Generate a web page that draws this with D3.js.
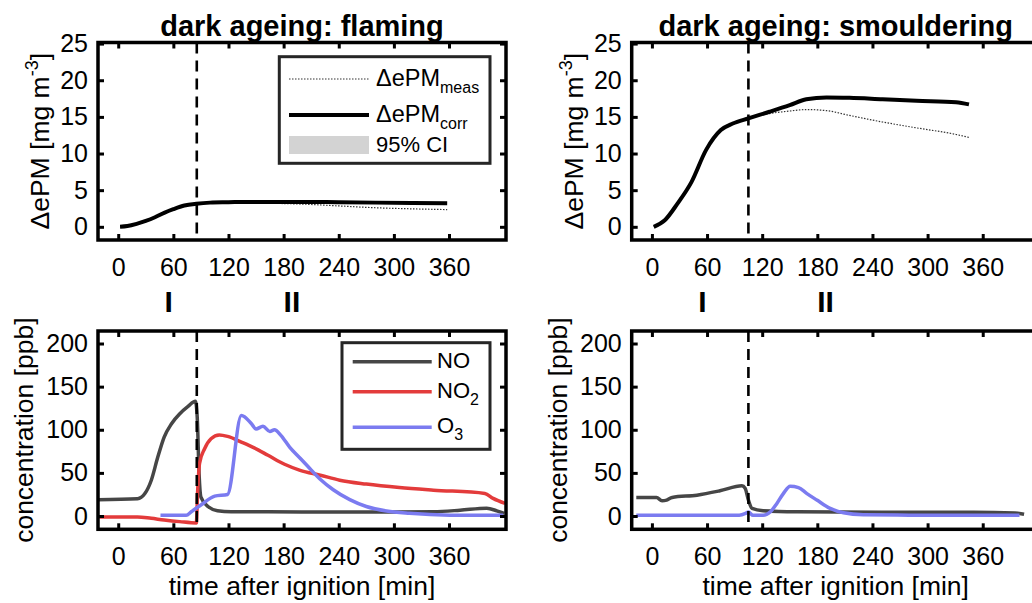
<!DOCTYPE html>
<html lang="en">
<head>
  <meta charset="UTF-8">
  <title>dark ageing</title>
  <style>
    body { margin: 0; background: #ffffff; }
    svg { display: block; font-family: "Liberation Sans", Arial, sans-serif; }
  </style>
</head>
<body>
  <svg id="chart" width="1032" height="603"></svg>
  <script src="https://cdn.jsdelivr.net/npm/d3@7"></script>
  <script>
    // ---- data ----
    var timeTicks = [0, 60, 120, 180, 240, 300, 360];
    var pmTicks = [0, 5, 10, 15, 20, 25];
    var concTicks = [0, 50, 100, 150, 200];
    var titles = ["dark ageing: flaming", "dark ageing: smouldering"];
    var phaseLabels = ["I", "II"];
    var phaseTimes = [55, 189];
    var dashTimes = [85.5, 105];

    // flaming, dEPM (mg m-3)
    var flamPmTime = [2, 10, 20, 30, 40, 50, 60, 72, 85, 100, 120, 140, 170, 200, 240, 280, 320, 358];
    var flamPmCorr = [0, 0.1, 0.4, 0.8, 1.3, 1.9, 2.4, 2.9, 3.15, 3.3, 3.35, 3.4, 3.4, 3.4, 3.35, 3.3, 3.25, 3.2];
    var flamPmMeas = [0, 0.1, 0.4, 0.8, 1.3, 1.9, 2.4, 2.9, 3.15, 3.3, 3.3, 3.25, 3.2, 3.1, 2.85, 2.6, 2.45, 2.35];

    // smouldering, dEPM (mg m-3)
    var smolPmTime = [2, 14, 28, 43, 59, 75, 88, 105, 128, 150, 168, 190, 215, 251, 288, 331, 345];
    var smolPmCorr = [0, 0.9, 3.2, 6.1, 10.5, 13.2, 14.1, 14.8, 15.7, 16.6, 17.4, 17.65, 17.6, 17.4, 17.2, 17.0, 16.7];
    var smolPmMeas = [0, 0.9, 3.2, 6.1, 10.5, 13.2, 14.1, 14.8, 15.45, 15.8, 16.0, 15.85, 15.2, 14.3, 13.5, 12.6, 12.2];

    // flaming, gases (ppb)
    var flamNoTime = [-22, 21, 29, 36, 43, 50, 58, 67, 76, 84, 86, 88, 90, 98, 108, 123, 200, 300, 343, 372, 401, 412, 420];
    var flamNo = [19, 20, 26, 41.5, 68, 91.5, 107, 118.5, 127, 133, 114, 49, 22, 10.7, 6.2, 5, 4.8, 4.6, 5, 6.7, 9, 6, 3];
    var flamNo2Time = [-22, 21, 36, 50, 67, 85, 86.5, 88.5, 94, 101, 110, 119, 134, 148, 163, 181, 198, 220, 241, 270, 306, 343, 399, 408, 421];
    var flamNo2 = [-1, -1, -2.7, -4.6, -6.5, -8, 30, 61, 78, 89.6, 94, 92.3, 85.7, 79, 70.4, 60, 53, 47.3, 41.5, 37, 33, 30, 26.2, 20.4, 14.6];
    var flamO3Time = [46, 74, 79.5, 90, 105, 119, 134, 145, 150, 157.5, 165, 170, 177, 186.5, 198, 206, 219.5, 234, 252, 270, 292, 317, 361, 419];
    var flamO3 = [0.8, 0.8, 5, 12.7, 23, 25, 116.5, 107, 101, 104, 98, 100, 93.5, 80, 67, 58, 43, 30.5, 19, 11, 5.8, 3.1, 1, 0.8];

    // smouldering, gases (ppb)
    var smolNoTime = [-17, 5, 11, 16, 22, 49, 74, 98, 101.5, 105, 109, 121, 158, 250, 350, 395, 405];
    var smolNo = [21.5, 21.5, 17.7, 18.5, 21.5, 24.2, 29.2, 35, 32, 18.5, 8.8, 6.2, 5, 4.5, 4.5, 3.5, 2];
    var smolO3Time = [-17, 95, 102, 105, 110, 121, 129, 136, 143, 150.5, 159.5, 168.7, 179.5, 194, 208.5, 230, 280, 400];
    var smolO3 = [0.8, 0.8, 3, 4.6, 0.8, 0.8, 5, 14.6, 26, 34.6, 33, 26, 18.5, 8.8, 3.8, 1.5, 1, 1];

    var colNO = "#464646", colNO2 = "#e33b3b", colO3 = "#7b7bf0";

    function zip(t, v) { return t.map(function(d, i) { return { t: d, v: v[i] }; }); }

    var svg = d3.select("#chart");
    var boxW = 408;
    var lefts = [98, 631.7];
    var pmY0 = 240, pmY1 = 42.5;
    var cY0 = 529.3, cY1 = 331;

    function axes(g, x, y, yTicks) {
      var x0 = x.range()[0], x1 = x.range()[1];
      var yb = y.range()[0], yt = y.range()[1];

      g.append("g").attr("transform", "translate(0," + yb + ")")
        .call(d3.axisBottom(x).tickValues(timeTicks).tickSizeInner(-6).tickSizeOuter(0).tickPadding(18));
      g.append("g").attr("transform", "translate(0," + yt + ")")
        .call(d3.axisTop(x).tickValues(timeTicks).tickSizeInner(-6).tickSizeOuter(0).tickFormat(function() { return ""; }));
      g.append("g").attr("transform", "translate(" + x0 + ",0)")
        .call(d3.axisLeft(y).tickValues(yTicks).tickSizeInner(-6).tickSizeOuter(0).tickPadding(10));
      g.append("g").attr("transform", "translate(" + x1 + ",0)")
        .call(d3.axisRight(y).tickValues(yTicks).tickSizeInner(-6).tickSizeOuter(0).tickFormat(function() { return ""; }));

      g.selectAll(".domain").remove();
      g.selectAll(".tick line").attr("stroke", "#000").attr("stroke-width", 3);
      g.selectAll(".tick text").attr("fill", "#000").style("font-size", "25px")
        .style("font-family", "'Liberation Sans', Arial, sans-serif");

      g.append("rect")
        .attr("x", x0).attr("y", yt).attr("width", x1 - x0).attr("height", yb - yt)
        .attr("fill", "none").attr("stroke", "#000").attr("stroke-width", 3.5);
    }

    function dashed(g, x, y, t) {
      g.append("line")
        .attr("x1", x(t)).attr("x2", x(t))
        .attr("y1", y.range()[1]).attr("y2", y.range()[0])
        .attr("stroke", "#000").attr("stroke-width", 2.6)
        .attr("stroke-dasharray", "11,7");
    }

    function path(g, line, data, color, width, dash) {
      var p = g.append("path").datum(data)
        .attr("d", line)
        .attr("fill", "none")
        .attr("stroke", color)
        .attr("stroke-width", width)
        .attr("stroke-linejoin", "round");
      if (dash) p.attr("stroke-dasharray", dash);
      return p;
    }

    function ylabel(g, x, y, parts) {
      var t = g.append("text")
        .attr("transform", "translate(" + x + "," + y + ") rotate(-90)")
        .attr("text-anchor", "middle")
        .style("font-size", "26.5px");
      parts.forEach(function(p) {
        var s = t.append("tspan").text(p.text);
        if (p.dy) s.attr("dy", p.dy);
        if (p.size) s.style("font-size", p.size);
      });
    }

    [0, 1].forEach(function(i) {
      var left = lefts[i];
      var x = d3.scaleLinear().domain([-22, 422]).range([left, left + boxW]);
      var yPm = d3.scaleLinear().domain([-1.8, 25.15]).range([pmY0, pmY1]);
      var yC = d3.scaleLinear().domain([-15.4, 214.5]).range([cY0, cY1]);

      var top = svg.append("g");
      var bot = svg.append("g");

      var linePm = d3.line().x(function(d) { return x(d.t); }).y(function(d) { return yPm(d.v); }).curve(d3.curveMonotoneX);
      var lineC = d3.line().x(function(d) { return x(d.t); }).y(function(d) { return yC(d.v); }).curve(d3.curveMonotoneX);

      // top: dEPM
      if (i === 0) {
        path(top, linePm, zip(flamPmTime, flamPmMeas), "#333", 1.2, "1.5,1.5");
        path(top, linePm, zip(flamPmTime, flamPmCorr), "#000", 4);
      } else {
        path(top, linePm, zip(smolPmTime, smolPmMeas), "#333", 1.2, "1.5,1.5");
        path(top, linePm, zip(smolPmTime, smolPmCorr), "#000", 4);
      }
      dashed(top, x, yPm, dashTimes[i]);
      axes(top, x, yPm, pmTicks);

      // bottom: gases
      if (i === 0) {
        path(bot, lineC, zip(flamNoTime, flamNo), colNO, 3.5);
        path(bot, lineC, zip(flamNo2Time, flamNo2), colNO2, 3.5);
        path(bot, lineC, zip(flamO3Time, flamO3), colO3, 3.5);
      } else {
        path(bot, lineC, zip(smolNoTime, smolNo), colNO, 3.5);
        path(bot, lineC, zip(smolO3Time, smolO3), colO3, 3.5);
      }
      dashed(bot, x, yC, dashTimes[i]);
      axes(bot, x, yC, concTicks);

      // titles and labels
      svg.append("text")
        .attr("x", left + boxW / 2).attr("y", 36)
        .attr("text-anchor", "middle")
        .style("font-size", "29px").style("font-weight", "bold")
        .text(titles[i]);

      phaseLabels.forEach(function(lab, k) {
        svg.append("text")
          .attr("x", x(phaseTimes[k])).attr("y", 312)
          .attr("text-anchor", "middle")
          .style("font-size", "30px").style("font-weight", "bold")
          .text(lab);
      });

      svg.append("text")
        .attr("x", left + boxW / 2).attr("y", 595)
        .attr("text-anchor", "middle")
        .style("font-size", "26.5px")
        .text("time after ignition [min]");

      ylabel(svg, left - 49, (pmY0 + pmY1) / 2, [
        { text: "\u0394ePM [mg m" },
        { text: "-3", dy: "-11", size: "18px" },
        { text: "]", dy: "11" }
      ]);
      ylabel(svg, left - 65, (cY0 + cY1) / 2, [{ text: "concentration [ppb]" }]);
    });

    // legend, top-left panel
    var lg1 = svg.append("g");
    lg1.append("rect").attr("x", 279.3).attr("y", 56.7).attr("width", 210.7).attr("height", 106.6)
      .attr("fill", "#fff").attr("stroke", "#262626").attr("stroke-width", 3);
    var pmItems = [
      { name: "\u0394ePM", sub: "meas", y: 79, kind: "meas" },
      { name: "\u0394ePM", sub: "corr", y: 115, kind: "corr" },
      { name: "95% CI", sub: "", y: 145, kind: "ci" }
    ];
    pmItems.forEach(function(d) {
      if (d.kind === "ci") {
        lg1.append("rect").attr("x", 289).attr("y", d.y - 9).attr("width", 80).attr("height", 18).attr("fill", "#d3d3d3");
      } else {
        lg1.append("line").attr("x1", 289).attr("x2", 369).attr("y1", d.y).attr("y2", d.y)
          .attr("stroke", d.kind === "corr" ? "#000" : "#333")
          .attr("stroke-width", d.kind === "corr" ? 4 : 1.2)
          .attr("stroke-dasharray", d.kind === "corr" ? null : "1.5,1.5");
      }
      var t = lg1.append("text").attr("x", 376).attr("y", d.y + 7)
        .style("font-size", d.kind === "ci" ? "22px" : "23.5px");
      t.append("tspan").text(d.name);
      if (d.sub) t.append("tspan").attr("dy", 7).style("font-size", "16px").text(d.sub);
    });

    // legend, bottom-left panel
    var lg2 = svg.append("g");
    lg2.append("rect").attr("x", 342).attr("y", 342.7).attr("width", 148).attr("height", 106.6)
      .attr("fill", "#fff").attr("stroke", "#262626").attr("stroke-width", 3);
    var gasItems = [
      { name: "NO", sub: "", y: 361.7, color: colNO },
      { name: "NO", sub: "2", y: 391.7, color: colNO2 },
      { name: "O", sub: "3", y: 427.3, color: colO3 }
    ];
    gasItems.forEach(function(d) {
      lg2.append("line").attr("x1", 352.7).attr("x2", 431.7).attr("y1", d.y).attr("y2", d.y)
        .attr("stroke", d.color).attr("stroke-width", 3.5);
      var t = lg2.append("text").attr("x", 437).attr("y", d.y + 6).style("font-size", "22px");
      t.append("tspan").text(d.name);
      if (d.sub) t.append("tspan").attr("dy", 7).style("font-size", "16px").text(d.sub);
    });
  </script>
</body>
</html>
